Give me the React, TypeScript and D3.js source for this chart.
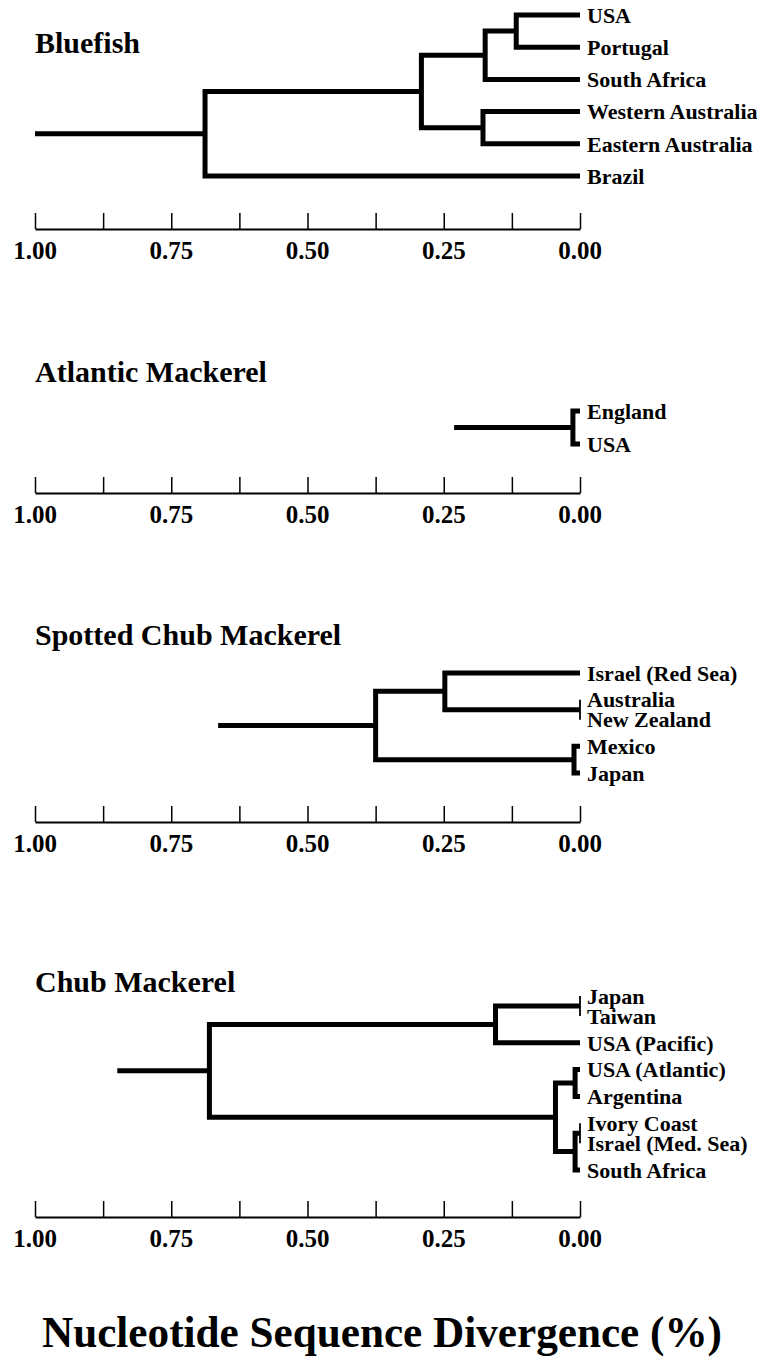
import React, { useEffect, useRef } from 'react';
import * as d3 from 'd3';

// Panel titles (top to bottom)
const panelTitles = ['Bluefish', 'Atlantic Mackerel', 'Spotted Chub Mackerel', 'Chub Mackerel'];

// Trees: internal node = { h: divergence at node, children }, leaf = name. stem = where root line starts
const bluefishTree = {
  stem: 1.0,
  h: 0.688,
  children: [
    {
      h: 0.291,
      children: [
        { h: 0.174, children: [{ h: 0.117, children: ['USA', 'Portugal'] }, 'South Africa'] },
        { h: 0.178, children: ['Western Australia', 'Eastern Australia'] },
      ],
    },
    'Brazil',
  ],
};

const atlanticTree = { stem: 0.231, h: 0.013, children: ['England', 'USA'] };

const spottedTree = {
  stem: 0.664,
  h: 0.375,
  children: [
    { h: 0.248, children: ['Israel (Red Sea)', { h: 0, children: ['Australia', 'New Zealand'] }] },
    { h: 0.011, children: ['Mexico', 'Japan'] },
  ],
};

const chubTree = {
  stem: 0.849,
  h: 0.68,
  children: [
    { h: 0.155, children: [{ h: 0, children: ['Japan', 'Taiwan'] }, 'USA (Pacific)'] },
    {
      h: 0.045,
      children: [
        { h: 0.009, children: ['USA (Atlantic)', 'Argentina'] },
        { h: 0.009, children: [{ h: 0, children: ['Ivory Coast', 'Israel (Med. Sea)'] }, 'South Africa'] },
      ],
    },
  ],
};

const trees = [bluefishTree, atlanticTree, spottedTree, chubTree];

// Axis ticks
const minorTicks = [1, 0.875, 0.75, 0.625, 0.5, 0.375, 0.25, 0.125, 0];
const majorTicks = [1, 0.75, 0.5, 0.25, 0];

const axisTitle = 'Nucleotide Sequence Divergence (%)';

// vertical layout of each panel
const panelLayout = [
  { title: 53, top: 15, bottom: 176, axis: 229 },
  { title: 382, top: 411, bottom: 444, axis: 493 },
  { title: 645, top: 673, bottom: 773, axis: 822 },
  { title: 992, top: 996, bottom: 1170, axis: 1217 },
];

const FONT = "'Liberation Serif', 'Times New Roman', serif";

const App = () => {
  const svgRef = useRef<SVGSVGElement>(null);

  useEffect(() => {
    const width = 766;
    const height = 1363;

    const svg = d3.select(svgRef.current);
    svg.selectAll('*').remove();
    svg.attr('width', width).attr('height', height);

    const x = d3.scaleLinear().domain([1, 0]).range([35, 580]);

    trees.forEach((tree: any, i) => {
      const lay = panelLayout[i];
      const g = svg.append('g');

      // Title
      g.append('text')
        .attr('x', 35)
        .attr('y', lay.title)
        .attr('fill', '#000')
        .style('font-family', FONT)
        .style('font-weight', 'bold')
        .style('font-size', '30px')
        .text(panelTitles[i]);

      // Hierarchy & leaf positions (identical leaves sit closer together)
      const root = d3.hierarchy(tree, (d: any) => (typeof d === 'string' ? null : d.children));
      const leaves = root.leaves();
      let acc = 0;
      const units = leaves.map((l, k) => {
        if (k > 0) {
          const tight = l.parent === leaves[k - 1].parent && (l.parent as any).data.h === 0;
          acc += tight ? 0.75 : 1;
        }
        return acc;
      });
      const y = d3.scaleLinear().domain([0, acc]).range([lay.top, lay.bottom]);
      leaves.forEach((l: any, k) => (l.y = y(units[k])));
      root.eachAfter((n: any) => {
        if (n.children) n.y = (n.children[0].y + n.children[n.children.length - 1].y) / 2;
      });
      const hOf = (n: any) => (n.children ? n.data.h : 0);

      // Root stem
      g.append('line')
        .attr('x1', x(tree.stem))
        .attr('x2', x(tree.h))
        .attr('y1', (root as any).y)
        .attr('y2', (root as any).y)
        .attr('stroke', '#000')
        .attr('stroke-width', 5);

      // Branches
      g.selectAll('path.branch')
        .data(root.descendants().filter((n) => n.children))
        .join('path')
        .attr('class', 'branch')
        .attr('d', (n: any) => {
          const c0 = n.children[0];
          const cl = n.children[n.children.length - 1];
          return `M${x(hOf(c0))},${c0.y}H${x(n.data.h)}V${cl.y}H${x(hOf(cl))}`;
        })
        .attr('fill', 'none')
        .attr('stroke', '#000')
        .attr('stroke-linejoin', 'miter')
        .attr('stroke-width', (n: any) => (n.data.h === 0 ? 1.8 : 5));

      // Leaf labels
      g.selectAll('text.leaf')
        .data(leaves)
        .join('text')
        .attr('class', 'leaf')
        .attr('x', x(0) + 7)
        .attr('y', (l: any) => l.y)
        .attr('dy', '0.35em')
        .attr('fill', '#000')
        .style('font-family', FONT)
        .style('font-weight', 'bold')
        .style('font-size', '22px')
        .text((l: any) => l.data);

      // Axis ticks (pointing up)
      g.append('g')
        .attr('transform', `translate(0,${lay.axis})`)
        .call(
          d3
            .axisTop(x)
            .tickValues(minorTicks)
            .tickSize(16)
            .tickSizeOuter(0)
            .tickFormat(() => '')
        )
        .call((a) => a.select('.domain').attr('stroke-width', 2))
        .call((a) => a.selectAll('.tick line').attr('stroke-width', 1.5))
        .call((a) => a.selectAll('.tick text').remove());

      // Tick labels
      g.selectAll('text.lab')
        .data(majorTicks)
        .join('text')
        .attr('class', 'lab')
        .attr('x', (d) => x(d))
        .attr('y', lay.axis + 30)
        .attr('text-anchor', 'middle')
        .attr('fill', '#000')
        .style('font-family', FONT)
        .style('font-weight', 'bold')
        .style('font-size', '25px')
        .text((d) => d3.format('.2f')(d));
    });

    // Overall x-axis title
    svg
      .append('text')
      .attr('x', 42)
      .attr('y', 1347)
      .attr('textLength', 680)
      .attr('lengthAdjust', 'spacingAndGlyphs')
      .attr('fill', '#000')
      .style('font-family', FONT)
      .style('font-weight', 'bold')
      .style('font-size', '45px')
      .text(axisTitle);
  }, []);

  return (
    <svg
      ref={svgRef}
      style={{ position: 'absolute', left: 0, top: 0, background: '#fff' }}
    />
  );
};

export default App;
